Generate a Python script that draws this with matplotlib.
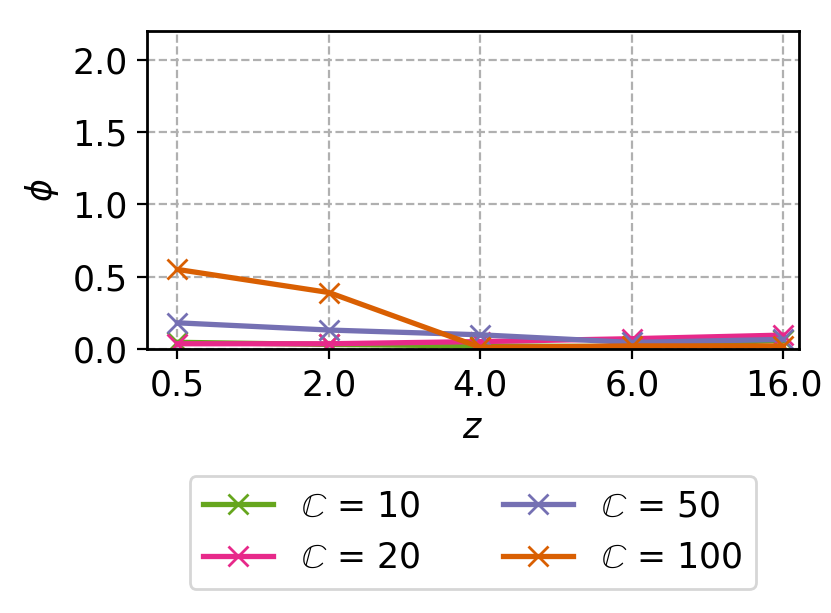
"""
phi vs z for several C values
"""
import numpy as np
import matplotlib.pyplot as plt

plt.rcParams["font.size"] = 12.5
plt.rcParams["lines.linewidth"] = 1.9
plt.rcParams["lines.markersize"] = 7.5
plt.rcParams["axes.linewidth"] = 1.0

z_labels = ["0.5", "2.0", "4.0", "6.0", "16.0"]
c_values = [10, 20, 50, 100]
phi_c10 = [0.045, 0.03, 0.02, 0.015, 0.06]
phi_c20 = [0.035, 0.035, 0.05, 0.07, 0.095]
phi_c50 = [0.18, 0.13, 0.097, 0.044, 0.065]
phi_c100 = [0.55, 0.39, 0.01, 0.02, 0.02]

colors = ["#66a61e", "#e7298a", "#7570b3", "#d95f02"]

fig = plt.figure(figsize=(4.155, 3.065), dpi=200)
ax = fig.add_axes((0.177, 0.431, 0.784, 0.518))

x = np.arange(len(z_labels))
for c, phi, col in zip(c_values, [phi_c10, phi_c20, phi_c50, phi_c100], colors):
    ax.plot(x, phi, marker="x", color=col, label=r"$\mathbb{C}$ = " + str(c))

ax.set_xticks(x)
ax.set_xticklabels(z_labels)
ax.set_xlim(-0.2, 4.1)
ax.set_ylim(0, 2.2)
ax.set_yticks([0.0, 0.5, 1.0, 1.5, 2.0])
ax.grid(True, linestyle="--", color="#b0b0b0")
ax.set_axisbelow(True)
ax.set_xlabel(r"$z$", labelpad=3)
ax.set_ylabel(r"$\phi$")

ax.legend(loc="upper center", bbox_to_anchor=(0.5, -0.345), ncol=2,
          columnspacing=2.4)

fig.savefig("out.png", dpi=200)
